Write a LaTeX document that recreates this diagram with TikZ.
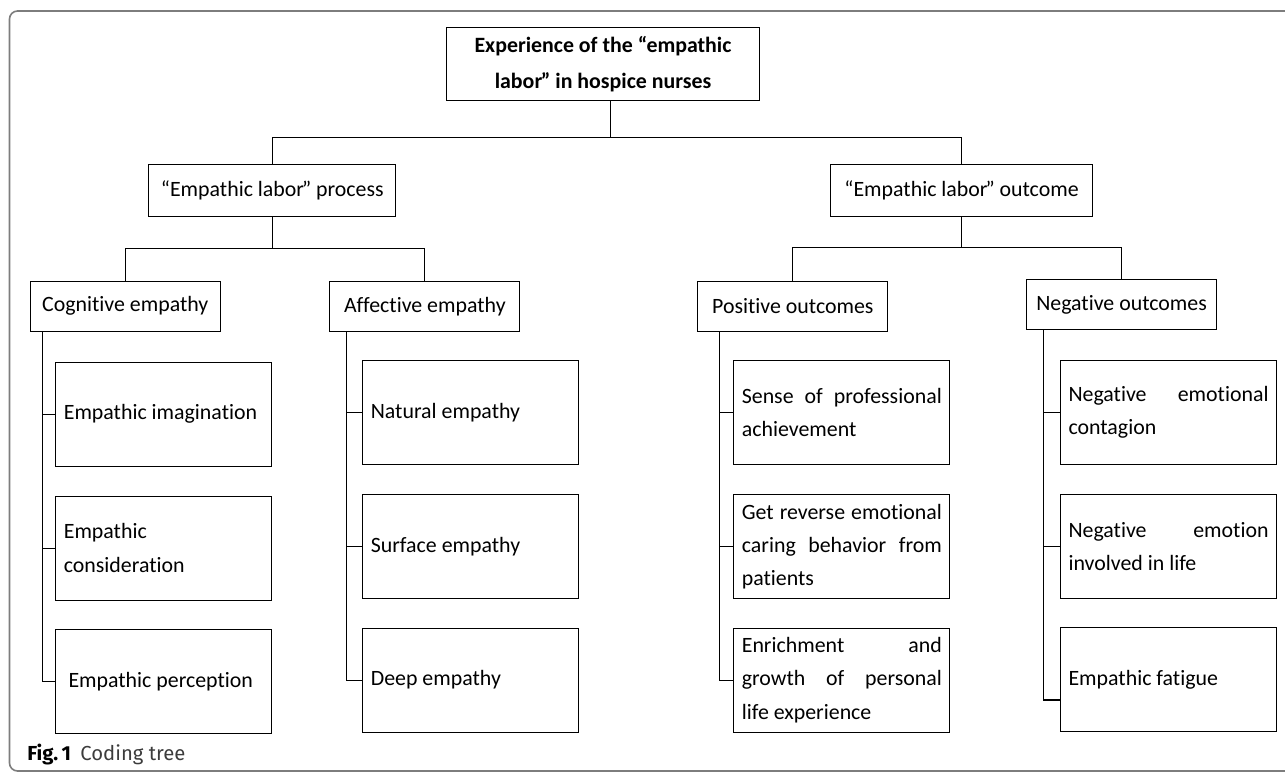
\documentclass[tikz,border=0pt]{standalone}
\usepackage{fontspec}
\setmainfont{Carlito}[Ligatures={TeX,NoCommon}]
\newfontfamily\capfont{Fira Sans}
\usepackage{xcolor}
\usepackage{tikz}
\hyphenpenalty=10000
\definecolor{framegray}{RGB}{125,125,125}
\definecolor{captext}{RGB}{60,60,60}

\begin{document}
\begin{tikzpicture}[x=0.75pt,y=0.75pt,yscale=-1,xscale=1,
  box/.style={draw, line width=0.8pt, inner sep=0pt, anchor=north west, font=\fontsize{16.4}{25}\selectfont},
  topbox/.style={box, align=center, font=\bfseries\fontsize{16.4}{27.5}\selectfont},
  midbox/.style={box, minimum height=38.6pt},
  catbox/.style={box, minimum width=142.5pt, minimum height=37.5pt},
  leafbox/.style={box, text width=150pt, inner xsep=6pt, minimum height=78pt, align=justify},
  link/.style={line width=0.8pt}]
\useasboundingbox (0,0) rectangle (1285,774);

%Shape: Frame
\draw [framegray, line width=1.2pt, rounded corners=6pt] (9.5,11) rectangle (1320,771);

% Text Node
\node [topbox, minimum width=234.75pt, minimum height=54.75pt] (root) at (446,27) {Experience of the “empathic\\labor\kern-1pt” in hospice nurses};
% Text Node
\node [midbox, minimum width=185.25pt] (process) at (148.3,164.3) {“Empathic labor\kern-1.5pt” process};
% Text Node
\node [midbox, minimum width=197pt] (outcome) at (829.7,164.3) {“Empathic labor\kern-1.5pt” outcome};

% Text Node
\node [catbox] (cog) at (29.7,280.7) {Cognitive empathy};
% Text Node
\node [catbox] (aff) at (329.3,280.7) {Affective empathy};
% Text Node
\node [catbox] (pos) at (697.3,280.7) {Positive outcomes};
% Text Node
\node [catbox] (neg) at (1026,279) {Negative outcomes};

% Text Node
\node [leafbox] (cog1) at (55.3,361.5) {Empathic imagination};
% Text Node
\node [leafbox] (cog2) at (55.3,495.5) {Empathic\\consideration};
% Text Node
\node [leafbox] (cog3) at (55.3,629) {\hspace*{3.5pt}Empathic perception};

% Text Node
\node [leafbox] (aff1) at (362.3,360) {Natural empathy};
% Text Node
\node [leafbox] (aff2) at (362.3,494) {Surface empathy};
% Text Node
\node [leafbox] (aff3) at (362.3,627.5) {Deep empathy};

% Text Node
\node [leafbox] (pos1) at (733.3,360) {Sense of professional\linebreak achievement};
% Text Node
\node [leafbox] (pos2) at (733.3,494) {Get reverse emotional\linebreak caring behavior from\linebreak patients};
% Text Node
\node [leafbox] (pos3) at (733.3,627.5) {Enrichment and\linebreak growth of personal\linebreak life experience};

% Text Node
\node [leafbox] (neg1) at (1060,360) {Negative emotional\linebreak contagion};
% Text Node
\node [leafbox] (neg2) at (1060,494) {Negative emotion\linebreak involved in life};
% Text Node
\node [leafbox] (neg3) at (1060,627.3) {Empathic fatigue};

%Straight Lines: first level
\coordinate (j0) at (610.3,137.7);
\draw [link] (root.south -| j0) -- (j0);
\draw [link] (process.north) |- (j0) -| (outcome.north);

%Straight Lines: second level
\coordinate (j1) at (273,248.5);
\draw [link] (process.south) -- (process.south |- j1);
\draw [link] (cog.north) |- (j1) -| (aff.north);
\coordinate (j2) at (960,247.5);
\draw [link] (outcome.south) -- (outcome.south |- j2);
\draw [link] (pos.north) |- (j2) -| (neg.north);

%Straight Lines: cognitive empathy
\coordinate (tc) at ([xshift=9.75pt]cog.south west);
\draw [link] (tc) |- (cog3.west);
\draw [link] (tc |- cog1.west) -- (cog1.west);
\draw [link] (tc |- cog2.west) -- (cog2.west);

%Straight Lines: affective empathy
\coordinate (ta) at ([xshift=13pt]aff.south west);
\draw [link] (ta) |- (aff3.west);
\draw [link] (ta |- aff1.west) -- (aff1.west);
\draw [link] (ta |- aff2.west) -- (aff2.west);

%Straight Lines: positive outcomes
\coordinate (tp) at ([xshift=16.3pt]pos.south west);
\draw [link] (tp) |- (pos3.west);
\draw [link] (tp |- pos1.west) -- (pos1.west);
\draw [link] (tp |- pos2.west) -- (pos2.west);

%Straight Lines: negative outcomes
\coordinate (tn) at ([xshift=13pt]neg.south west);
\coordinate (n3) at (1060,700);
\draw [link] (tn) |- (n3);
\draw [link] (tn |- neg1.west) -- (neg1.west);
\draw [link] (tn |- neg2.west) -- (neg2.west);

% Text Node: caption
\node [anchor=base west, inner sep=0pt, font=\capfont\fontsize{15.2}{18}\selectfont] (cap) at (27,760) {\textbf{Fig.\,1}\hspace{7pt}\textcolor{captext}{Coding tree}};

\end{tikzpicture}
\end{document}
